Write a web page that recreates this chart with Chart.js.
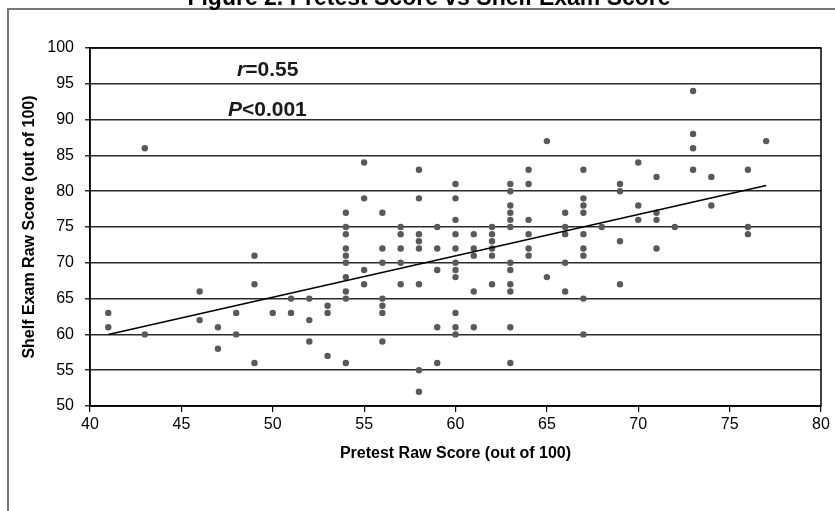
<!DOCTYPE html>
<html>
<head>
<meta charset="utf-8">
<title>Pretest Score vs Shelf Exam Score</title>
<script src="https://cdn.jsdelivr.net/npm/chart.js@4.4.1/dist/chart.umd.min.js"></script>
<style>
  html, body { margin: 0; padding: 0; background: #fff; }
  #wrap { position: relative; width: 835px; height: 511px; }
</style>
</head>
<body>
<div id="wrap"><canvas id="chart" width="835" height="511"></canvas></div>
<script>
// Pretest raw score (x) and shelf exam raw score (y), one entry per student
const pretest = [
  41, 41,
  43, 43,
  46, 46,
  47, 47,
  48, 48,
  49, 49, 49,
  50,
  51, 51,
  52, 52, 52,
  53, 53, 53,
  54, 54, 54, 54, 54, 54, 54, 54, 54, 54,
  55, 55, 55, 55,
  56, 56, 56, 56, 56, 56, 56,
  57, 57, 57, 57, 57,
  58, 58, 58, 58, 58, 58, 58, 58,
  59, 59, 59, 59, 59,
  60, 60, 60, 60, 60, 60, 60, 60, 60, 60, 60,
  61, 61, 61, 61, 61,
  62, 62, 62, 62, 62, 62,
  63, 63, 63, 63, 63, 63, 63, 63, 63, 63, 63, 63,
  64, 64, 64, 64, 64, 64,
  65, 65,
  66, 66, 66, 66, 66,
  67, 67, 67, 67, 67, 67, 67, 67, 67,
  68,
  69, 69, 69, 69,
  70, 70, 70,
  71, 71, 71, 71,
  72,
  73, 73, 73, 73,
  74, 74,
  76, 76, 76,
  77
];
const shelf = [
  63, 61,
  86, 60,
  66, 62,
  61, 58,
  63, 60,
  71, 67, 56,
  63,
  65, 63,
  65, 62, 59,
  64, 63, 57,
  77, 75, 74, 72, 71, 70, 68, 66, 65, 56,
  84, 79, 69, 67,
  77, 72, 70, 65, 64, 63, 59,
  75, 74, 72, 70, 67,
  83, 79, 74, 73, 72, 67, 55, 52,
  75, 72, 69, 61, 56,
  81, 79, 76, 74, 72, 70, 69, 68, 63, 61, 60,
  74, 72, 71, 66, 61,
  75, 74, 73, 72, 71, 67,
  81, 80, 78, 77, 76, 75, 70, 69, 67, 66, 61, 56,
  83, 81, 76, 74, 72, 71,
  87, 68,
  77, 75, 74, 70, 66,
  83, 79, 78, 77, 74, 72, 71, 65, 60,
  75,
  81, 80, 73, 67,
  84, 78, 76,
  82, 77, 76, 72,
  75,
  94, 88, 86, 83,
  82, 78,
  83, 75, 74,
  87
];

// Linear trend line end points
const trendX = [41, 77];
const trendY = [60.0, 80.8];

const xTicks = [40, 45, 50, 55, 60, 65, 70, 75, 80];
const yTicks = [50, 55, 60, 65, 70, 75, 80, 85, 90, 95, 100];

const chartTitle = 'Figure 2. Pretest Score vs Shelf Exam Score';
const xTitle = 'Pretest Raw Score (out of 100)';
const yTitle = 'Shelf Exam Raw Score (out of 100)';
const statLines = [
  [['r', true], ['=0.55', false]],
  [['P', true], ['<0.001', false]]
];

const SANS = '"Liberation Sans", Arial, sans-serif';

const points = pretest.map((x, i) => ({ x: x, y: shelf[i] }));
const trend = trendX.map((x, i) => ({ x: x, y: trendY[i] }));

// Frame, cut-off title, plot border and the r / P annotation
const decorPlugin = {
  id: 'decor',
  beforeDraw(chart) {
    const ctx = chart.ctx;
    ctx.save();
    ctx.fillStyle = '#fff';
    ctx.fillRect(0, 0, chart.width, chart.height);
    ctx.strokeStyle = '#777';
    ctx.lineWidth = 2;
    ctx.strokeRect(8, 9, chart.width + 40, chart.height + 40);
    ctx.fillStyle = '#000';
    ctx.font = 'bold 23px ' + SANS;
    ctx.textAlign = 'center';
    ctx.textBaseline = 'alphabetic';
    ctx.fillText(chartTitle, 429, 5);
    ctx.restore();
  },
  afterDraw(chart) {
    const ctx = chart.ctx;
    const a = chart.chartArea;
    const xs = chart.scales.x;
    const ys = chart.scales.y;
    ctx.save();
    ctx.strokeStyle = '#000';
    ctx.lineWidth = 1.5;
    ctx.strokeRect(a.left, a.top, a.right - a.left, a.bottom - a.top);

    // annotation anchored in data units
    const anchors = [{ x: 48.05, y: 96.05 }, { x: 47.55, y: 90.45 }];
    ctx.fillStyle = '#1a1a1a';
    ctx.textBaseline = 'alphabetic';
    ctx.textAlign = 'left';
    statLines.forEach((parts, i) => {
      let px = xs.getPixelForValue(anchors[i].x);
      const py = ys.getPixelForValue(anchors[i].y);
      parts.forEach(([txt, italic]) => {
        ctx.font = (italic ? 'italic ' : '') + 'bold 21px ' + SANS;
        ctx.fillText(txt, px, py);
        px += ctx.measureText(txt).width;
      });
    });
    ctx.restore();
  }
};

new Chart(document.getElementById('chart'), {
  type: 'scatter',
  data: {
    datasets: [
      {
        label: 'Students',
        data: points,
        backgroundColor: '#595959',
        borderColor: '#595959',
        pointRadius: 3.2,
        pointBorderWidth: 0,
        order: 2
      },
      {
        label: 'Trend',
        type: 'line',
        data: trend,
        showLine: true,
        borderColor: '#000',
        borderWidth: 1.5,
        pointRadius: 0,
        fill: false,
        order: 1
      }
    ]
  },
  options: {
    responsive: false,
    animation: false,
    events: [],
    layout: { padding: { left: 8, right: 14, top: 48, bottom: 0 } },
    plugins: {
      legend: { display: false },
      tooltip: { enabled: false },
      title: { display: false }
    },
    scales: {
      x: {
        type: 'linear',
        min: 40,
        max: 80,
        afterBuildTicks: scale => { scale.ticks = xTicks.map(v => ({ value: v })); },
        afterFit: scale => { scale.height = 105; },
        grid: {
          drawOnChartArea: false,
          drawTicks: true,
          tickLength: 6,
          color: '#000',
          lineWidth: 1.2
        },
        border: { color: '#000', width: 1.5 },
        ticks: {
          color: '#000',
          padding: 3,
          maxRotation: 0,
          font: { family: SANS, size: 16 }
        },
        title: {
          display: true,
          text: xTitle,
          color: '#000',
          font: { family: SANS, size: 16, weight: 'bold' },
          padding: { top: 0, bottom: 48 }
        }
      },
      y: {
        type: 'linear',
        min: 50,
        max: 100,
        afterBuildTicks: scale => { scale.ticks = yTicks.map(v => ({ value: v })); },
        afterFit: scale => { scale.width = 82; },
        grid: {
          color: '#2b2b2b',
          lineWidth: 1.5,
          drawTicks: true,
          tickLength: 5
        },
        border: { color: '#000', width: 1.5 },
        ticks: {
          color: '#000',
          padding: 11,
          font: { family: SANS, size: 16 }
        },
        title: {
          display: true,
          text: yTitle,
          color: '#000',
          font: { family: SANS, size: 16, weight: 'bold' },
          padding: { top: 12, bottom: 0 }
        }
      }
    }
  },
  plugins: [decorPlugin]
});
</script>
</body>
</html>
